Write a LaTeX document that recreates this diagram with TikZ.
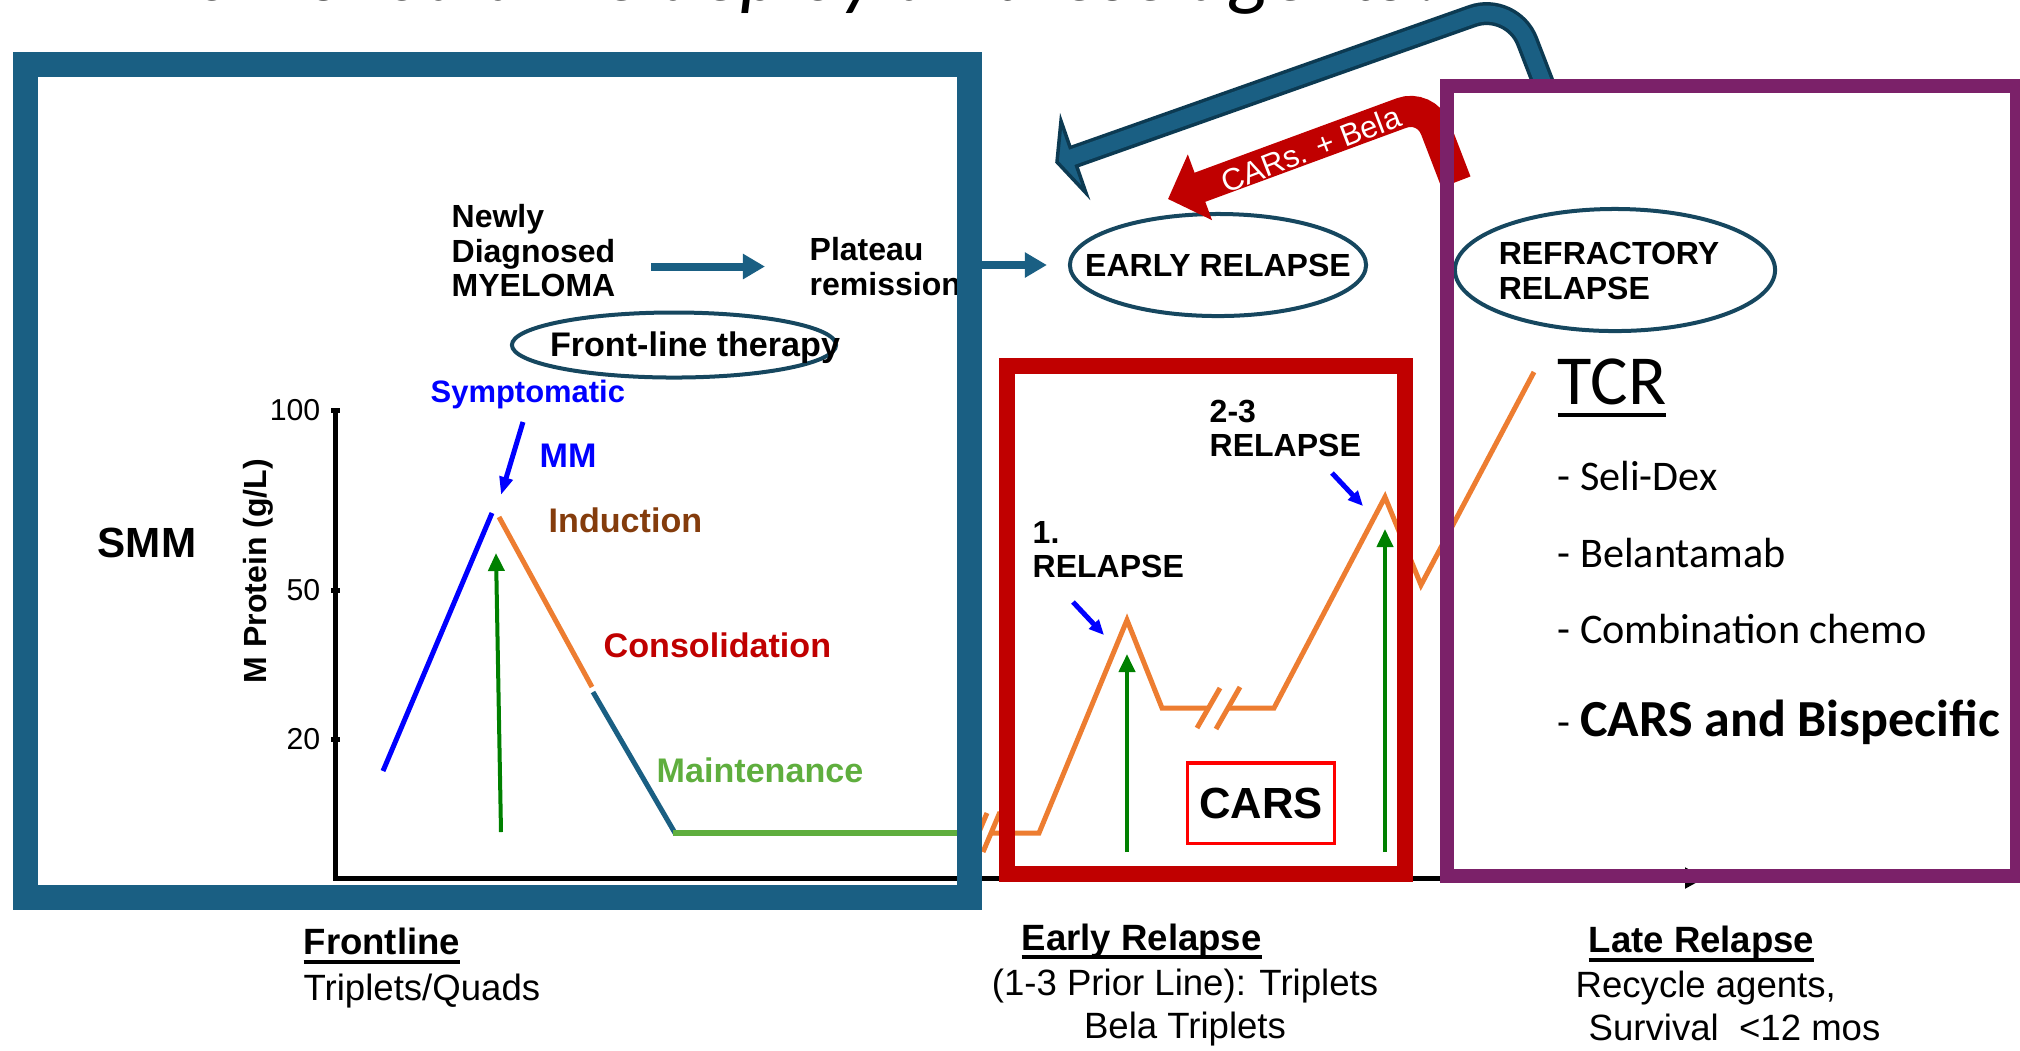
\documentclass[tikz,border=0pt]{standalone}
\usepackage{fontspec}
\setmainfont{Liberation Sans}
\newfontfamily\calibri{Carlito}
\usetikzlibrary{arrows.meta, positioning, shapes.geometric}
\definecolor{frameblue}{HTML}{1A5F83}
\definecolor{arrowline}{HTML}{0C3A52}
\definecolor{ovalline}{HTML}{16475F}
\definecolor{earlyred}{HTML}{C00000}
\definecolor{refpurple}{HTML}{7B2169}
\definecolor{curveorange}{HTML}{ED7D31}
\definecolor{maintgreen}{HTML}{5FAE3E}
\definecolor{rxgreen}{HTML}{008000}
\definecolor{indbrown}{HTML}{843C0C}
\definecolor{mmblue}{HTML}{0000FF}

\newsavebox{\ulbox}
\newcommand{\ulined}[2][0.10cm]{\sbox{\ulbox}{#2}\rlap{\rule[-#1]{\wd\ulbox}{0.04cm}}\usebox{\ulbox}}

\begin{document}
\begin{tikzpicture}[x=0.01cm, y=-0.01cm,
    phasebox/.style={draw=#1, rectangle, inner sep=0pt},
    oval/.style={ellipse, draw=ovalline, line width=0.04cm, inner sep=0pt},
    lbl/.style={inner sep=0pt, font=\fontsize{9.1}{9.7}\selectfont\bfseries, align=left},
    phase/.style={inner sep=0pt, anchor=base west, font=\fontsize{9.7}{11}\selectfont\bfseries},
    ticklbl/.style={inner sep=0pt, anchor=east, font=\fontsize{8.6}{10}\selectfont},
    agent/.style={inner sep=0pt, anchor=base west, font=\calibri\fontsize{12}{14}\selectfont},
    foot/.style={inner sep=0pt, font=\fontsize{10.4}{12.2}\selectfont},
    flowarrow/.style={-{Triangle[length=0.22cm, width=0.24cm]}, line width=0.08cm, frameblue},
    rxarrow/.style={-{Triangle[length=0.18cm, width=0.16cm]}, line width=0.04cm, rxgreen},
    ptarrow/.style={-{Triangle[length=0.15cm, width=0.13cm]}, line width=0.05cm, mmblue},
    mprotein/.style={line width=0.05cm, curveorange}
]
\useasboundingbox (0,0) rectangle (2020,1050);
\clip (0,0) rectangle (2020,1050);

% Title (cut at the top)
\node[inner sep=0pt, anchor=base west, font=\calibri\itshape\fontsize{23}{27}\selectfont] (title) at (143,0) {How should we deploy all these agents?};

% Axes
\draw[line width=0.05cm, -{Triangle[length=0.2cm, width=0.2cm]}] (335,408) -- (335,878) -- (1705,878);
\foreach \y/\v in {410/100, 590/50, 739/20} {
  \draw[line width=0.05cm] (331,\y) -- (340,\y);
  \node[ticklbl] (tick\v) at (321,\y) {\v};
}
\node[lbl, rotate=90] (ylabel) at (258,571) {M Protein (g/L)};
\node[inner sep=0pt, anchor=base west, font=\fontsize{12}{14}\selectfont\bfseries] (smm) at (97,557) {SMM};

% Frontline course
\draw[line width=0.05cm, mmblue] (383,771) -- (492,513);
\draw[mprotein] (499,517) -- (592,687);
\draw[line width=0.05cm, frameblue] (593,692) -- (675,833);
\draw[line width=0.06cm, maintgreen] (673,833) -- (960,833);
\draw[rxarrow] (501,832) -- (496,553);
\draw[ptarrow, -{Triangle[length=0.18cm, width=0.13cm]}] (523,422) -- (501,495);

\node[phase, mmblue, font=\fontsize{8.8}{10}\selectfont\bfseries] (sympt) at (430,402) {Symptomatic};
\node[phase, mmblue] (mm) at (539,467) {MM};
\node[phase, indbrown] (induct) at (548,532) {Induction};
\node[phase, earlyred] (consol) at (603,657) {Consolidation};
\node[phase, maintgreen] (maint) at (656,782) {Maintenance};

% Relapse course
\draw[mprotein] (970,853) -- (987,813) (983,852) -- (1000,812);
\draw[mprotein] (992,833) -- (1039,833) -- (1127,620) -- (1162,708) -- (1208,708);
\draw[mprotein] (1197,728) -- (1220,688) (1216,729) -- (1240,687);
\draw[mprotein] (1228,708) -- (1274,708) -- (1385,497) -- (1421,585) -- (1534,372);
\draw[rxarrow] (1127,852) -- (1127,654);
\draw[rxarrow] (1385,852) -- (1385,529);
\draw[ptarrow] (1073,602) -- (1104,635);
\draw[ptarrow] (1332,473) -- (1363,506);

\node[lbl, anchor=north west] (rel1) at (1032,521) {1.\\RELAPSE};
\node[lbl, anchor=north west] (rel23) at (1209,399) {2-3\\RELAPSE};
\node[draw=red, line width=0.03cm, minimum width=1.46cm, minimum height=0.8cm, inner sep=0pt, font=\fontsize{12.4}{14}\selectfont\bfseries] (carsbox) at (1261,803) {CARS};

% Stages
\node[lbl, anchor=north west] (newly) at (451,204) {Newly\\Diagnosed\\MYELOMA};
\node[lbl, anchor=north west] (plateau) at (809,237) {Plateau\\remission};
\draw[flowarrow, shorten <=0.35cm, shorten >=0.44cm] (newly.east |- plateau.west) -- (plateau.west);
\node[oval, minimum width=3.24cm, minimum height=0.65cm] (flt) at (674,345) {};
\node[lbl, font=\fontsize{9.7}{11}\selectfont\bfseries] (flttxt) at (695,348) {Front-line therapy};
\node[oval, minimum width=2.96cm, minimum height=1.02cm] (early) at (1218,265) {};
\node[lbl] (earlytxt) at (early) {EARLY RELAPSE};
\node[oval, minimum width=3.2cm, minimum height=1.22cm] (refr) at (1615,270) {};
\node[lbl] (refrtxt) at (1609,271) {REFRACTORY\\RELAPSE};

% Agents
\node[inner sep=0pt, anchor=base west, font=\calibri\fontsize{20}{24}\selectfont] (tcr) at (1557,404) {\ulined[0.13cm]{TCR}};
\node[agent] (seli) at (1557,490) {- Seli-Dex};
\node[agent] (bela) at (1557,567) {- Belantamab};
\node[agent] (combo) at (1557,643) {- Combination chemo};
\node[agent] (bisp) at (1557,736) {- {\bfseries\fontsize{14.8}{17}\selectfont CARS and Bispecific}};

% Bent arrows back to early relapse
\coordinate (bluestart) at (1544,85);
\coordinate (bluebend) at (1512,2);
\coordinate (bluebase) at (1073,157);
\coordinate (bluetip) at (1057,162);
\draw[arrowline, line width=0.23cm, rounded corners=0.42cm] (bluestart) -- (bluebend) -- (bluebase);
\filldraw[fill=frameblue, draw=arrowline, line width=0.035cm] (bluetip) -- (1061,121) -- (1086,193) -- cycle;
\draw[frameblue, line width=0.16cm, rounded corners=0.42cm] (bluestart) -- (bluebend) -- (1067,159);

\coordinate (redstart) at (1456,182);
\coordinate (redbend) at (1426,104);
\coordinate (redtip) at (1168,199);
\draw[earlyred, line width=0.31cm, rounded corners=0.26cm, -{Triangle[length=0.34cm, width=0.68cm]}] (redstart) -- (redbend) -- (redtip);
\node[inner sep=0pt, white, rotate=21, font=\fontsize{8.8}{10}\selectfont] (redlbl) at (1311,149) {CARs. + Bela};

% Frames
\node[phasebox=frameblue, line width=0.25cm, minimum width=9.44cm, minimum height=8.33cm] (frontbox) at (497.5,481) {};
\node[phasebox=earlyred, line width=0.16cm, minimum width=3.98cm, minimum height=5.08cm] (earlybox) at (1206,620) {};
\node[phasebox=refpurple, line width=0.14cm, minimum width=5.70cm, minimum height=7.90cm] (refbox) at (1732,481) {};
\draw[flowarrow, shorten >=0.21cm] (frontbox.east |- early.west) -- (early.west);

% Bottom notes
\node[foot, anchor=base west] (fronthd) at (303,954) {\ulined{\bfseries Frontline}};
\node[foot, anchor=base west] (frontrx) at (303,1000) {Triplets/Quads};
\node[foot, anchor=base west] (earlyhd) at (1021,950) {\ulined[0.09cm]{\bfseries Early Relapse}};
\node[foot, anchor=north, align=center] (earlyrx) at (1185,968) {(1-3 Prior Line): Triplets\\Bela Triplets};
\node[foot, anchor=base west] (latehd) at (1588,952) {\ulined{\bfseries Late Relapse}};
\node[foot, anchor=north west, align=left] (laterx) at (1575,970) {Recycle agents,\\\hspace*{0.13cm}Survival~~<12 mos};

\end{tikzpicture}
\end{document}
